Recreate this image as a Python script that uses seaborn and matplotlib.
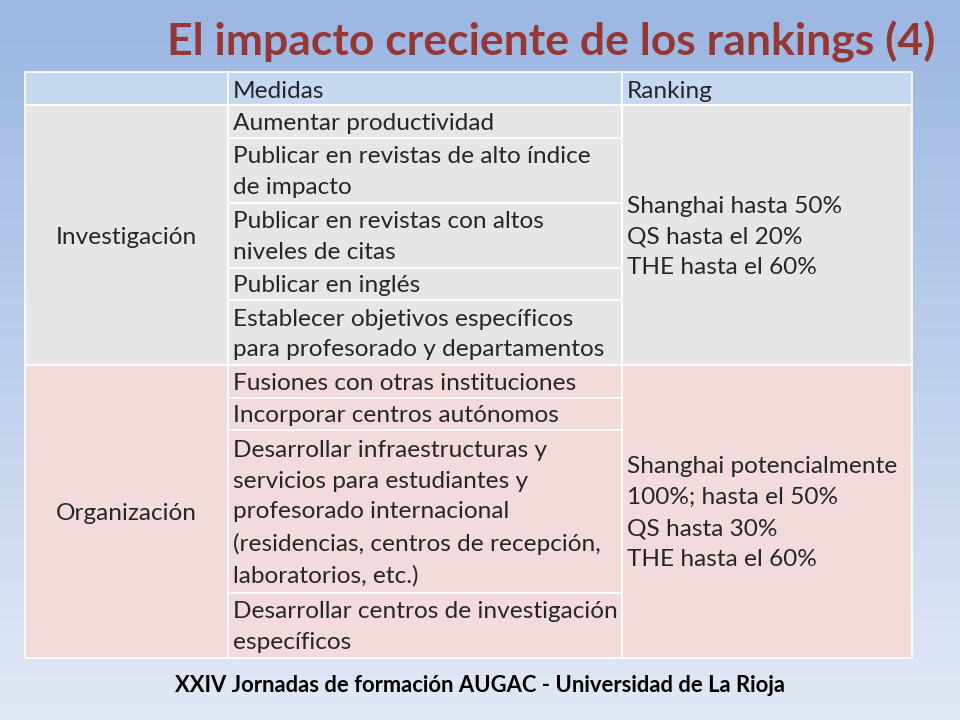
import numpy as np
import matplotlib
matplotlib.use("Agg")
import matplotlib.pyplot as plt
import seaborn as sns
from matplotlib.colors import LinearSegmentedColormap

title = "El impacto creciente de los rankings (4)"
footer = "XXIV Jornadas de formación AUGAC - Universidad de La Rioja"
headers = ["", "Medidas", "Ranking"]
groups = ["Investigación", "Organización"]
medidas = [
    ["Aumentar productividad",
     "Publicar en revistas de alto índice\nde impacto",
     "Publicar en revistas con altos\nniveles de citas",
     "Publicar en inglés",
     "Establecer objetivos específicos\npara profesorado y departamentos"],
    ["Fusiones con otras instituciones",
     "Incorporar centros autónomos",
     "Desarrollar infraestructuras y\nservicios para estudiantes y\nprofesorado internacional\n(residencias, centros de recepción,\nlaboratorios, etc.)",
     "Desarrollar centros de investigación\nespecíficos"],
]
rankings = ["Shanghai hasta 50%\nQS hasta el 20%\nTHE hasta el 60%",
            "Shanghai potencialmente\n100%; hasta el 50%\nQS hasta 30%\nTHE hasta el 60%"]
group_colors = ["#e6e6e6", "#f2dcdb"]
header_color = "#c6d9f1"

sns.set_theme(style="white")
plt.rcParams["font.family"] = "Lato"
fig = plt.figure(figsize=(9.6, 7.2), dpi=100)
bg = fig.add_axes([0, 0, 1, 1])
grad = np.linspace(0, 1, 256)[:, None]
cmap = LinearSegmentedColormap.from_list("bg", ["#9ab6e2", "#e2e9f5"])
bg.imshow(grad, aspect="auto", cmap=cmap, extent=[0, 960, 720, 0])
bg.set_xlim(0, 960); bg.set_ylim(720, 0); bg.axis("off")

x0, x1, x2, x3 = 25, 228, 622, 912
lh = 32.5
fs = 17.6
ls = 1.58
edge = "white"

def rect(xa, ya, w, h, c):
    bg.add_patch(plt.Rectangle((xa, ya), w, h, facecolor=c, edgecolor=edge, lw=1.2))

y = 72
rect(x0, y, x1 - x0, 33, header_color)
rect(x1, y, x2 - x1, 33, header_color)
rect(x2, y, x3 - x2, 33, header_color)
bg.text(x1 + 5, y + 19, headers[1], fontsize=fs, va="center")
bg.text(x2 + 5, y + 19, headers[2], fontsize=fs, va="center")
y += 33
for g, meds, rk, col in zip(groups, medidas, rankings, group_colors):
    ystart = y
    for m in meds:
        h = (m.count("\n") + 1) * lh
        rect(x1, y, x2 - x1, h, col)
        bg.text(x1 + 5, y + h / 2 + 2, m, fontsize=fs, va="center", linespacing=ls)
        y += h
    H = y - ystart
    rect(x0, ystart, x1 - x0, H, col)
    rect(x2, ystart, x3 - x2, H, col)
    bg.text((x0 + x1) / 2, ystart + H / 2 + 2, g, fontsize=fs, ha="center", va="center")
    bg.text(x2 + 5, ystart + H / 2 + 2, rk, fontsize=fs, va="center", linespacing=ls)

bg.text(935, 42, title, fontsize=32, fontweight="bold", color="#953735", ha="right", va="center")
bg.text(480, 686, footer, fontsize=15.8, fontweight="bold", color="black", ha="center", va="center")
fig.savefig("out.png", dpi=100)
